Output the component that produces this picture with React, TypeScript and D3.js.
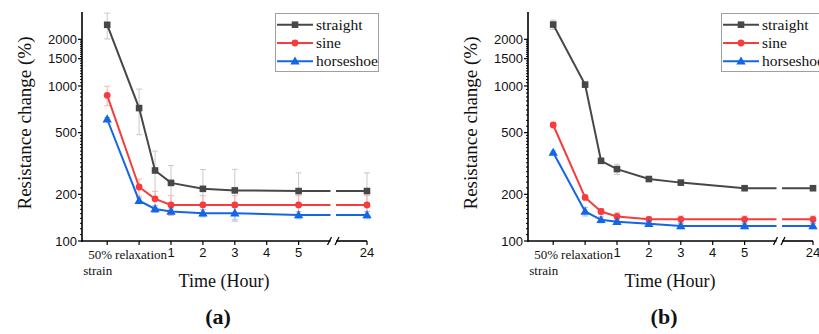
import * as d3 from 'd3';

// x categories (hours; -1 = 50% strain, 0 = relaxation)
const hours = [-1, 0, 0.5, 1, 2, 3, 5, 24];
const xTicks = [-1, 0, 1, 2, 3, 4, 5, 24];
const yTicks = [100, 200, 500, 1000, 1500, 2000];
const seriesNames = ['straight', 'sine', 'horseshoe'];

// panel (a)
const aStraight = [2480, 720, 285, 237, 217, 212, 210, 210];
const aStraightErr = [470, 235, 95, 70, 72, 78, 65, 65];
const aSine = [870, 223, 187, 171, 171, 171, 171, 171];
const aSineErr = [125, 28, 22, 25, 25, 25, 25, 25];
const aHorse = [610, 182, 161, 155, 151, 151, 147, 147];
const aHorseErr = [15, 8, 8, 6, 8, 14, 8, 8];

// panel (b)
const bStraight = [2490, 1020, 329, 291, 251, 238, 219, 219];
const bStraightErr = [170, 30, 10, 22, 8, 6, 6, 6];
const bSine = [560, 191, 155, 144, 138, 138, 138, 138];
const bSineErr = [15, 6, 7, 8, 6, 7, 7, 7];
const bHorse = [372, 155, 137, 133, 129, 125, 125, 125];
const bHorseErr = [10, 10, 6, 4, 5, 5, 5, 5];

const colors = ['#474747', '#f63c3c', '#1466e4'];
const errColors = ['#c9c9c9', '#f7b3b3', '#9cc4f2'];

const serif = '"Liberation Serif", "Times New Roman", serif';
const sans = '"Liberation Sans", Arial, sans-serif';

// minor ticks on log axis
const minorTicks: number[] = [];
for (let v = 110; v < 200; v += 10) minorTicks.push(v);
for (let v = 220; v < 500; v += 20) minorTicks.push(v);
for (let v = 550; v < 1000; v += 50) minorTicks.push(v);
for (let v = 1050; v < 2000; v += 50) if (v !== 1500) minorTicks.push(v);

const left = 82, bottom = 241, top = 12;
const x = d3.scaleLinear().domain([-1.79, 6.0, 23.0, 24.0]).range([left, 330.5, 336, 367]);
const y = d3.scaleLog().domain([100, 3000]).range([bottom, top]);
const breakL = x(6.0), breakR = x(23.0);

function Marker({ kind, cx, cy, color }: { kind: number; cx: number; cy: number; color: string }) {
  if (kind === 0) return <rect x={cx - 3.3} y={cy - 3.3} width={6.6} height={6.6} fill={color} />;
  if (kind === 1) return <circle cx={cx} cy={cy} r={3.4} fill={color} />;
  const sym = d3.symbol(d3.symbolTriangle, 38)();
  return <path d={sym || ''} transform={`translate(${cx},${cy + 0.5})`} fill={color} />;
}

function Panel({ series, errs, label, dx, id }: { series: number[][]; errs: number[][]; label: string; dx: number; id: string }) {
  const line = d3.line<number>().x((_, i) => x(hours[i])).y((d) => y(d));
  return (
    <g transform={`translate(${dx},0)`}>
      <defs>
        <clipPath id={id}>
          <rect x={0} y={0} width={breakL} height={bottom} />
          <rect x={breakR} y={0} width={60} height={bottom} />
        </clipPath>
      </defs>
      {/* error bars */}
      {series.map((s, k) =>
        s.map((v, i) => {
          const cx = x(hours[i]);
          const y1 = y(v + errs[k][i]);
          const y2 = y(Math.max(101, v - errs[k][i]));
          return (
            <g key={`e${k}-${i}`} stroke={errColors[k]} strokeWidth={1}>
              <line x1={cx} x2={cx} y1={y1} y2={y2} />
              <line x1={cx - 3} x2={cx + 3} y1={y1} y2={y1} />
              <line x1={cx - 3} x2={cx + 3} y1={y2} y2={y2} />
            </g>
          );
        })
      )}
      {/* lines */}
      <g clipPath={`url(#${id})`}>
        {series.map((s, k) => (
          <path key={`l${k}`} d={line(s) || ''} fill="none" stroke={colors[k]} strokeWidth={2} />
        ))}
      </g>
      {series.map((s, k) =>
        s.map((v, i) => <Marker key={`m${k}-${i}`} kind={k} cx={x(hours[i])} cy={y(v)} color={colors[k]} />)
      )}
      {/* y axis */}
      <line x1={left} x2={left} y1={top} y2={bottom + 1} stroke="#000" strokeWidth={1.6} />
      {minorTicks.map((t) => (
        <line key={`mt${t}`} x1={left - 2} x2={left} y1={y(t)} y2={y(t)} stroke="#000" strokeWidth={1} />
      ))}
      {yTicks.map((t) => (
        <g key={`yt${t}`}>
          <line x1={left - 4} x2={left} y1={y(t)} y2={y(t)} stroke="#000" strokeWidth={1.2} />
          <text x={left - 5} y={y(t)} dy="0.36em" textAnchor="end" fontFamily={sans} fontSize={13} fill="#111">
            {t}
          </text>
        </g>
      ))}
      {/* x axis with break */}
      <line x1={left} x2={breakL} y1={bottom} y2={bottom} stroke="#000" strokeWidth={1.6} />
      <line x1={breakR} x2={x(24)} y1={bottom} y2={bottom} stroke="#000" strokeWidth={1.6} />
      <line x1={breakL - 3} x2={breakL + 1} y1={bottom + 4} y2={bottom - 4} stroke="#000" strokeWidth={1.3} />
      <line x1={breakR - 1} x2={breakR + 3} y1={bottom + 4} y2={bottom - 4} stroke="#000" strokeWidth={1.3} />
      {xTicks.map((t) => (
        <line key={`xt${t}`} x1={x(t)} x2={x(t)} y1={bottom} y2={bottom + 4} stroke="#000" strokeWidth={1.2} />
      ))}
      {xTicks.filter((t) => t >= 1).map((t) => (
        <text key={`xl${t}`} x={x(t)} y={257} textAnchor="middle" fontFamily={sans} fontSize={13} fill="#111">
          {t}
        </text>
      ))}
      <text x={x(-1) + 5} y={259} textAnchor="end" fontFamily={serif} fontSize={13} fill="#111">50%</text>
      <text x={x(-1) + 5} y={275} textAnchor="end" fontFamily={serif} fontSize={13} fill="#111">strain</text>
      <text x={x(0) + 2} y={259} textAnchor="middle" fontFamily={serif} fontSize={13} fill="#111">relaxation</text>
      {/* titles */}
      <text x={224} y={287} textAnchor="middle" fontFamily={serif} fontSize={18} fill="#111">Time (Hour)</text>
      <text transform={`translate(31,123) rotate(-90)`} textAnchor="middle" fontFamily={serif} fontSize={19} fill="#111">
        Resistance change (%)
      </text>
      <text x={218} y={324} textAnchor="middle" fontFamily={serif} fontSize={22} fontWeight="bold" fill="#111">
        ({label})
      </text>
      {/* legend */}
      <rect x={275.5} y={13.5} width={103} height={58} fill="#fff" stroke="#a0a0a0" strokeWidth={1} />
      {seriesNames.map((n, k) => {
        const ly = 24.7 + k * 18.3;
        return (
          <g key={`lg${n}`}>
            <line x1={277} x2={313} y1={ly} y2={ly} stroke={colors[k]} strokeWidth={2} />
            <Marker kind={k} cx={295} cy={ly} color={colors[k]} />
            <text x={316} y={ly} dy="0.33em" fontFamily={serif} fontSize={15.5} fill="#111">
              {n}
            </text>
          </g>
        );
      })}
    </g>
  );
}

export default function App() {
  return (
    <svg width={819} height={334} style={{ position: 'absolute', left: 0, top: 0, background: '#fff' }}>
      <Panel id="clipA" dx={0} label="a" series={[aStraight, aSine, aHorse]} errs={[aStraightErr, aSineErr, aHorseErr]} />
      <Panel id="clipB" dx={446} label="b" series={[bStraight, bSine, bHorse]} errs={[bStraightErr, bSineErr, bHorseErr]} />
    </svg>
  );
}
